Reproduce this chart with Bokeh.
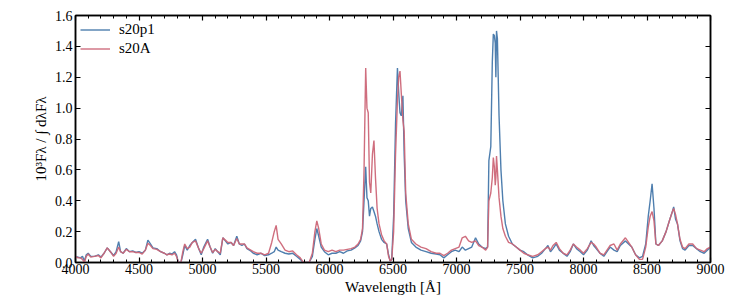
from bokeh.plotting import figure
from bokeh.models import LinearAxis, Range1d, SingleIntervalTicker, PrintfTickFormatter, Legend, LegendItem
from bokeh.embed import file_html
from bokeh.resources import INLINE

# Wavelength grid [Angstrom] and normalised flux of both models
wavelength = [
    4000, 4020, 4040, 4055, 4070, 4085, 4100, 4120, 4150, 4180, 4200, 4225, 4250, 4275, 4300, 4320,
    4340, 4355, 4375, 4400, 4425, 4450, 4475, 4500, 4525, 4550, 4570, 4590, 4610, 4640, 4670, 4700,
    4720, 4740, 4760, 4780, 4795, 4810, 4830, 4845, 4860, 4880, 4900, 4920, 4945, 4970, 4990, 5010,
    5040, 5060, 5080, 5100, 5120, 5140, 5160, 5180, 5200, 5225, 5245, 5270, 5290, 5310, 5330, 5350,
    5380, 5400, 5430, 5460, 5490, 5520, 5545, 5565, 5580, 5595, 5620, 5650, 5680, 5710, 5740, 5770,
    5790, 5810, 5840, 5865, 5885, 5900, 5915, 5935, 5960, 5990, 6020, 6050, 6080, 6110, 6140, 6170,
    6200, 6225, 6245, 6260, 6272, 6285, 6295, 6305, 6315, 6325, 6338, 6350, 6362, 6375, 6390, 6410,
    6430, 6450, 6465, 6478, 6490, 6505, 6520, 6535, 6545, 6555, 6565, 6578, 6588, 6600, 6620, 6645,
    6680, 6720, 6760, 6800, 6840, 6870, 6900, 6930, 6960, 6990, 7020, 7045, 7070, 7095, 7120, 7150,
    7175, 7200, 7230, 7245, 7255, 7270, 7282, 7290, 7298, 7305, 7310, 7315, 7322, 7335, 7350, 7365,
    7385, 7410, 7440, 7470, 7500, 7530, 7560, 7600, 7640, 7670, 7700, 7720, 7740, 7760, 7785, 7810,
    7840, 7870, 7895, 7920, 7945, 7975, 8000, 8030, 8060, 8080, 8100, 8130, 8160, 8185, 8210, 8240,
    8265, 8290, 8330, 8355, 8380, 8410, 8440, 8465, 8490, 8510, 8525, 8540, 8555, 8570, 8590, 8620,
    8650, 8680, 8700, 8710, 8725, 8740, 8760, 8780, 8800, 8830, 8860, 8890, 8920, 8950, 8975, 9000,
]

flux_s20p1 = [
    0.04, 0.035, 0.03, 0.04, 0.01, 0.05, 0.06, 0.04, 0.04, 0.05, 0.035, 0.06, 0.095, 0.07, 0.045, 0.07,
    0.135, 0.07, 0.06, 0.09, 0.07, 0.075, 0.065, 0.07, 0.06, 0.08, 0.145, 0.12, 0.095, 0.09, 0.07, 0.06,
    0.05, 0.06, 0.055, 0.07, 0.05, 0.0, 0.0, 0.05, 0.11, 0.08, 0.11, 0.13, 0.15, 0.09, 0.05, 0.10,
    0.15, 0.10, 0.06, 0.09, 0.07, 0.05, 0.16, 0.14, 0.12, 0.13, 0.11, 0.17, 0.12, 0.11, 0.12, 0.09,
    0.075, 0.06, 0.05, 0.06, 0.045, 0.05, 0.06, 0.07, 0.10, 0.08, 0.07, 0.06, 0.055, 0.06, 0.04, 0.02,
    0.0, 0.0, 0.0, 0.04, 0.15, 0.22, 0.17, 0.10, 0.07, 0.05, 0.06, 0.06, 0.07, 0.06, 0.075, 0.08,
    0.095, 0.11, 0.14, 0.20, 0.40, 0.62, 0.42, 0.40, 0.30, 0.35, 0.36, 0.33, 0.30, 0.25, 0.20, 0.15,
    0.13, 0.12, 0.05, 0.01, 0.02, 0.30, 0.90, 1.26, 1.10, 0.97, 0.95, 1.08, 0.70, 0.40, 0.22, 0.13,
    0.10, 0.08, 0.07, 0.06, 0.055, 0.05, 0.03, 0.05, 0.07, 0.08, 0.07, 0.10, 0.08, 0.09, 0.10, 0.16,
    0.12, 0.10, 0.09, 0.10, 0.66, 0.75, 1.30, 1.48, 1.47, 1.42, 1.20, 1.50, 1.45, 0.95, 0.60, 0.40,
    0.25, 0.17, 0.12, 0.10, 0.08, 0.07, 0.05, 0.03, 0.04, 0.06, 0.09, 0.11, 0.07, 0.09, 0.12, 0.08,
    0.06, 0.04, 0.07, 0.12, 0.09, 0.07, 0.05, 0.08, 0.14, 0.11, 0.09, 0.06, 0.04, 0.07, 0.10, 0.08,
    0.07, 0.11, 0.14, 0.12, 0.10, 0.05, 0.03, 0.04, 0.12, 0.30, 0.40, 0.51, 0.35, 0.12, 0.11, 0.14,
    0.20, 0.28, 0.33, 0.36, 0.28, 0.25, 0.14, 0.09, 0.08, 0.11, 0.11, 0.09, 0.07, 0.06, 0.08, 0.10,
]

flux_s20A = [
    0.04, 0.03, 0.03, 0.02, 0.0, 0.04, 0.055, 0.035, 0.04, 0.045, 0.03, 0.06, 0.095, 0.07, 0.04, 0.06,
    0.10, 0.07, 0.06, 0.085, 0.07, 0.07, 0.065, 0.065, 0.055, 0.08, 0.125, 0.11, 0.09, 0.085, 0.07, 0.06,
    0.05, 0.055, 0.05, 0.06, 0.04, 0.0, 0.0, 0.07, 0.12, 0.09, 0.10, 0.13, 0.14, 0.09, 0.06, 0.09,
    0.14, 0.10, 0.065, 0.085, 0.07, 0.06, 0.16, 0.145, 0.13, 0.13, 0.11, 0.155, 0.12, 0.12, 0.12, 0.095,
    0.08, 0.07, 0.06, 0.06, 0.05, 0.06, 0.13, 0.20, 0.24, 0.15, 0.12, 0.08, 0.07, 0.075, 0.05, 0.03,
    0.005, 0.0, 0.0, 0.06, 0.20, 0.27, 0.22, 0.12, 0.08, 0.07, 0.08, 0.07, 0.08, 0.08, 0.085, 0.09,
    0.10, 0.12, 0.15, 0.22, 0.60, 1.26, 1.00, 0.97, 0.52, 0.45, 0.70, 0.79, 0.55, 0.35, 0.25, 0.18,
    0.14, 0.12, 0.04, 0.01, 0.02, 0.20, 0.70, 1.05, 1.20, 1.24, 1.10, 0.92, 0.85, 0.45, 0.25, 0.15,
    0.12, 0.10, 0.09, 0.07, 0.06, 0.06, 0.045, 0.06, 0.08, 0.09, 0.10, 0.16, 0.17, 0.14, 0.13, 0.14,
    0.11, 0.10, 0.08, 0.10, 0.40, 0.45, 0.55, 0.68, 0.62, 0.50, 0.55, 0.69, 0.60, 0.42, 0.30, 0.22,
    0.17, 0.13, 0.12, 0.10, 0.08, 0.06, 0.05, 0.04, 0.05, 0.07, 0.09, 0.10, 0.08, 0.11, 0.13, 0.09,
    0.06, 0.05, 0.08, 0.12, 0.10, 0.08, 0.06, 0.09, 0.13, 0.12, 0.10, 0.06, 0.05, 0.08, 0.11, 0.12,
    0.08, 0.12, 0.16, 0.13, 0.10, 0.05, 0.02, 0.02, 0.10, 0.23, 0.30, 0.33, 0.27, 0.12, 0.11, 0.14,
    0.20, 0.28, 0.33, 0.35, 0.31, 0.25, 0.15, 0.10, 0.09, 0.12, 0.12, 0.09, 0.08, 0.07, 0.09, 0.10,
]

series_labels = ["s20p1", "s20A"]
x_tick_labels = [4000, 4500, 5000, 5500, 6000, 6500, 7000, 7500, 8000, 8500, 9000]
y_tick_labels = [0.0, 0.2, 0.4, 0.6, 0.8, 1.0, 1.2, 1.4, 1.6]

FONT = "'Liberation Serif', 'DejaVu Serif', serif"
BLUE = "#4477AA"
RED = "#CC6677"

p = figure(width=747, height=299, output_backend="svg", toolbar_location=None,
           x_range=Range1d(4000, 9000), y_range=Range1d(0, 1.6),
           x_axis_type=None, y_axis_type=None,
           min_border_left=75, min_border_right=37, min_border_top=15, min_border_bottom=37)
p.background_fill_color = "white"
p.border_fill_color = "white"
p.xgrid.visible = False
p.ygrid.visible = False
p.outline_line_color = "black"
p.outline_line_width = 1.5


def style_axis(ax, minor, labels):
    ax.axis_line_color = "black"
    ax.axis_line_width = 1.5
    ax.major_tick_in = 5
    ax.major_tick_out = 0
    ax.major_tick_line_width = 1.2
    ax.minor_tick_in = 3 if minor else 0
    ax.minor_tick_out = 0
    ax.minor_tick_line_width = 1.0
    if not minor:
        ax.minor_tick_line_color = None
    ax.major_label_text_font = FONT
    ax.major_label_text_font_size = "14px"
    ax.major_label_text_color = "black"
    if not labels:
        ax.major_label_text_color = None
        ax.major_label_text_font_size = "0px"
        ax.major_label_standoff = 0
    ax.axis_label_text_font = FONT
    ax.axis_label_text_font_style = "normal"
    ax.axis_label_text_font_size = "15px"
    ax.axis_label_text_color = "black"


xt = SingleIntervalTicker(interval=500, num_minor_ticks=5)
yt = SingleIntervalTicker(interval=0.2, num_minor_ticks=0)

xb = LinearAxis(ticker=xt, axis_label="Wavelength [Å]")
style_axis(xb, True, True)
xb.major_label_standoff = 1
xb.axis_label_standoff = 2
p.add_layout(xb, "below")

xa = LinearAxis(ticker=SingleIntervalTicker(interval=500, num_minor_ticks=5))
style_axis(xa, True, False)
p.add_layout(xa, "above")

yl = LinearAxis(ticker=yt, axis_label="10³Fλ / ∫ dλFλ",
                formatter=PrintfTickFormatter(format="%.1f"))
style_axis(yl, False, True)
yl.major_label_standoff = 3
yl.axis_label_standoff = 3
p.add_layout(yl, "left")

yr = LinearAxis(ticker=SingleIntervalTicker(interval=0.2, num_minor_ticks=0))
style_axis(yr, False, False)
p.add_layout(yr, "right")

r1 = p.line(wavelength, flux_s20p1, line_color=BLUE, line_width=1.4, line_alpha=0.95)
r2 = p.line(wavelength, flux_s20A, line_color=RED, line_width=1.4, line_alpha=0.95)

legend = Legend(items=[LegendItem(label=series_labels[0], renderers=[r1]),
                       LegendItem(label=series_labels[1], renderers=[r2])],
                location="top_left")
legend.border_line_color = None
legend.background_fill_alpha = 0
legend.margin = 5
legend.padding = 10
legend.spacing = 0
legend.glyph_width = 30
legend.glyph_height = 19
legend.label_height = 19
legend.label_standoff = 9
legend.label_text_font = FONT
legend.label_text_font_size = "15px"
legend.label_text_color = "black"
p.add_layout(legend, "center")

open("out.html", "w").write(file_html(p, INLINE))
